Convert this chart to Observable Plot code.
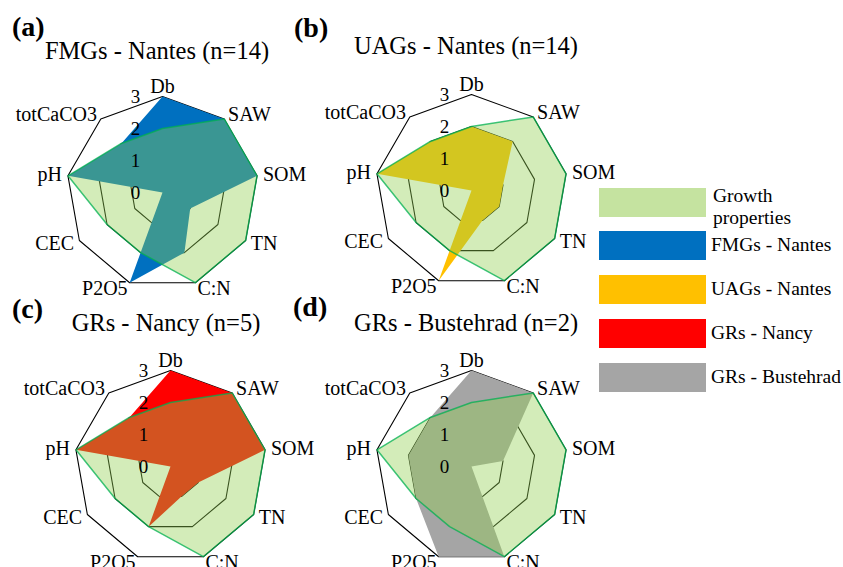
<!DOCTYPE html>
<html><head><meta charset="utf-8">
<script src="https://cdn.jsdelivr.net/npm/d3@7"></script>
<script src="https://cdn.jsdelivr.net/npm/@observablehq/plot@0.6"></script>
<style>
body{margin:0;background:#fff;font-family:"Liberation Serif","Times New Roman",serif;color:#000;}
#root{position:relative;width:843px;height:567px;overflow:hidden;background:#fff;}
.tag{position:absolute;font-weight:bold;font-size:28px;line-height:1;white-space:nowrap;}
.title{position:absolute;font-size:24.5px;line-height:1;white-space:nowrap;transform:translateX(-50%);}
.panel{position:absolute;}
.swatch{position:absolute;width:107px;height:29px;}
.ltext{position:absolute;font-size:19.5px;line-height:22px;white-space:nowrap;}
</style></head><body><div id="root"></div>
<script>
// ---- data ----
const axes = ["Db","SAW","SOM","TN","C:N","P2O5","CEC","pH","totCaCO3"];
const tickLevels = [0,1,2,3];
const growth       = [2,3,3,3,3,2,2,3,2];
const fmgsNantes   = [3,3,3,1,2,3,0,3,2];
const uagsNantes   = [2,2,1,1,1,3,0,3,2];
const grsNancy     = [3,3,3,1,1,2,0,3,2];
const grsBustehrad = [3,3,1,0,3,3,2,2,2];
const seriesNames = ["Growth properties","FMGs - Nantes","UAGs - Nantes","GRs - Nancy","GRs - Bustehrad"];
const panelTags = ["(a)","(b)","(c)","(d)"];
const panelTitles = ["FMGs - Nantes (n=14)","UAGs - Nantes (n=14)","GRs - Nancy (n=5)","GRs - Bustehrad (n=2)"];

// ---- styles / layout ----
const seriesColors = ["#92D050","#0070C0","#FFC000","#FF0000","#A5A5A5"];
const legendColors = ["#C5E3A0","#0070C0","#FFC000","#FF0000","#A5A5A5"];
const panelSeries = [fmgsNantes, uagsNantes, grsNancy, grsBustehrad];
const panelCenters = [[162,192],[471,190],[170,466],[471,466]];
const tagPos = [[12,13],[294,14],[12,295],[293,293]];
const titlePos = [[157,39],[466,34],[166,311],[466,311]];
const R = 96;      // radius in px of level 3
const S = 400;     // plot box size
const maxV = 3;

const root = document.getElementById("root");

function pt(v, i) {
  const a = (90 - 40 * i) * Math.PI / 180;
  return {x: v / maxV * Math.cos(a), y: v / maxV * Math.sin(a)};
}

function radar(values, color) {
  const h = S / 2 / R;
  const rings = [1,2,3].flatMap(l => axes.map((_, i) => ({...pt(l, i), ring: l})));
  const seriesPts = values.map((v, i) => pt(v, i));
  const growthPts = growth.map((v, i) => pt(v, i));
  const k = (R + 6) / R;
  const labels = axes.map((name, i) => {
    const a = (90 - 40 * i) * Math.PI / 180;
    const c = Math.cos(a);
    return {x: k * Math.cos(a), y: k * Math.sin(a), name,
      anchor: c > 0.1 ? "start" : c < -0.1 ? "end" : "middle"};
  });
  const ticks = tickLevels.map(l => ({x: 0, y: l / maxV, label: String(l)}));
  const txt = {x: "x", y: "y", text: "name", fontSize: 20, fill: "#000"};
  return Plot.plot({
    width: S, height: S, margin: 0,
    x: {domain: [-h, h], axis: null},
    y: {domain: [-h, h], axis: null},
    style: {background: "transparent", overflow: "visible", fontFamily: "Liberation Serif, Times New Roman, serif"},
    marks: [
      Plot.line(rings, {x: "x", y: "y", z: "ring", curve: "linear-closed", stroke: "#000", strokeWidth: 1.1}),
      Plot.line(seriesPts, {x: "x", y: "y", curve: "linear-closed", fill: color, stroke: "none"}),
      Plot.line(growthPts, {x: "x", y: "y", curve: "linear-closed", fill: seriesColors[0], fillOpacity: 0.4,
        stroke: "#00B050", strokeWidth: 1.5, strokeOpacity: 0.75}),
      Plot.text(labels.filter(d => d.anchor === "start"), {...txt, textAnchor: "start"}),
      Plot.text(labels.filter(d => d.anchor === "end"), {...txt, textAnchor: "end"}),
      Plot.text(labels.filter(d => d.anchor === "middle"), {...txt, textAnchor: "middle", lineAnchor: "bottom", dy: 2}),
      Plot.text(ticks, {x: "x", y: "y", text: "label", dx: -27, fontSize: 19, fill: "#000"})
    ]
  });
}

panelSeries.forEach((vals, p) => {
  const div = document.createElement("div");
  div.className = "panel";
  div.style.left = (panelCenters[p][0] - S / 2) + "px";
  div.style.top = (panelCenters[p][1] - S / 2) + "px";
  div.appendChild(radar(vals, seriesColors[p + 1]));
  root.appendChild(div);
});

panelTags.forEach((t, p) => {
  const d = document.createElement("div");
  d.className = "tag"; d.textContent = t;
  d.style.left = tagPos[p][0] + "px"; d.style.top = tagPos[p][1] + "px";
  root.appendChild(d);
  const ti = document.createElement("div");
  ti.className = "title"; ti.textContent = panelTitles[p];
  ti.style.left = titlePos[p][0] + "px"; ti.style.top = titlePos[p][1] + "px";
  root.appendChild(ti);
});

// legend
const legTop = [188, 231, 275, 319, 363];
seriesNames.forEach((name, i) => {
  const sw = document.createElement("div");
  sw.className = "swatch";
  sw.style.left = "599px"; sw.style.top = legTop[i] + "px";
  sw.style.background = legendColors[i];
  root.appendChild(sw);
  const lt = document.createElement("div");
  lt.className = "ltext";
  if (i === 0) {
    lt.innerHTML = "Growth<br>properties";
    lt.style.left = "713px"; lt.style.top = (legTop[i] - 3) + "px";
  } else {
    lt.textContent = name;
    lt.style.left = "711px"; lt.style.top = (legTop[i] + 3) + "px";
  }
  root.appendChild(lt);
});
</script>
</body></html>
